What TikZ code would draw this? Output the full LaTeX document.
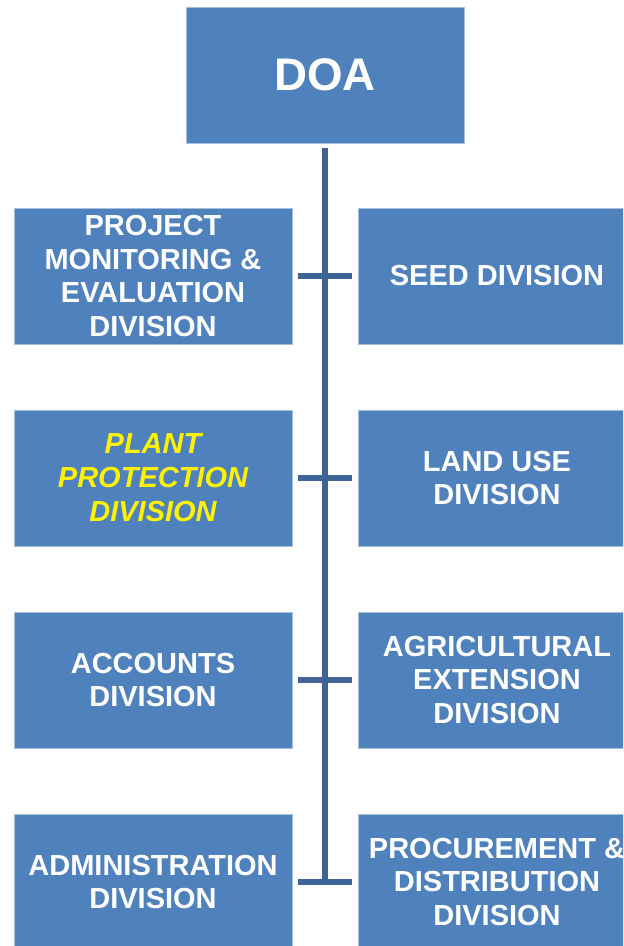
\documentclass[tikz,border=0pt]{standalone}
\usepackage{fontspec}
\setmainfont{Liberation Sans}
\definecolor{boxblue}{RGB}{79,129,189}
\definecolor{lineblue}{RGB}{60,100,150}
\definecolor{rimblue}{RGB}{165,190,220}
\tikzset{
  division/.style={draw=rimblue,line width=0.5pt,fill=boxblue,text=white,
    font=\fontsize{16.5}{19.3}\selectfont\bfseries,align=center,
    minimum width=5.56cm,minimum height=2.72cm,inner sep=0pt},
  branch/.style={lineblue,line width=3.2pt},
}
\begin{document}
\begin{tikzpicture}[x=0.02cm,y=-0.02cm]
\useasboundingbox (0,0) rectangle (623,946);
\clip (0,0) rectangle (623,946);

\node[division,font=\fontsize{26}{30}\selectfont\bfseries] (doa) at (325,75) {DOA};

\node[division] (pmed) at (153,276) {PROJECT\\MONITORING \&\\EVALUATION\\DIVISION};
\node[division,text=yellow,font=\fontsize{16.5}{19.3}\selectfont\bfseries\itshape] (ppd) at (153,478) {PLANT\\PROTECTION\\DIVISION};
\node[division] (acd) at (153,680) {ACCOUNTS\\DIVISION};
\node[division] (adm) at (153,882) {ADMINISTRATION\\DIVISION};

\node[division] (seed) at (497,276) {SEED DIVISION};
\node[division] (lud) at (497,478) {LAND USE\\DIVISION};
\node[division] (aed) at (497,680) {AGRICULTURAL\\EXTENSION\\DIVISION};
\node[division] (pdd) at (497,882) {PROCUREMENT \&\\DISTRIBUTION\\DIVISION};

\coordinate (trunk end) at (325,884);
\draw[branch,shorten <=0.1cm] (doa) -- (trunk end);

\draw[branch,shorten <=0.12cm,shorten >=0.12cm] (pmed) -- (seed);
\draw[branch,shorten <=0.12cm,shorten >=0.12cm] (ppd) -- (lud);
\draw[branch,shorten <=0.12cm,shorten >=0.12cm] (acd) -- (aed);
\draw[branch,shorten <=0.12cm,shorten >=0.12cm] (adm) -- (pdd);
\end{tikzpicture}
\end{document}
